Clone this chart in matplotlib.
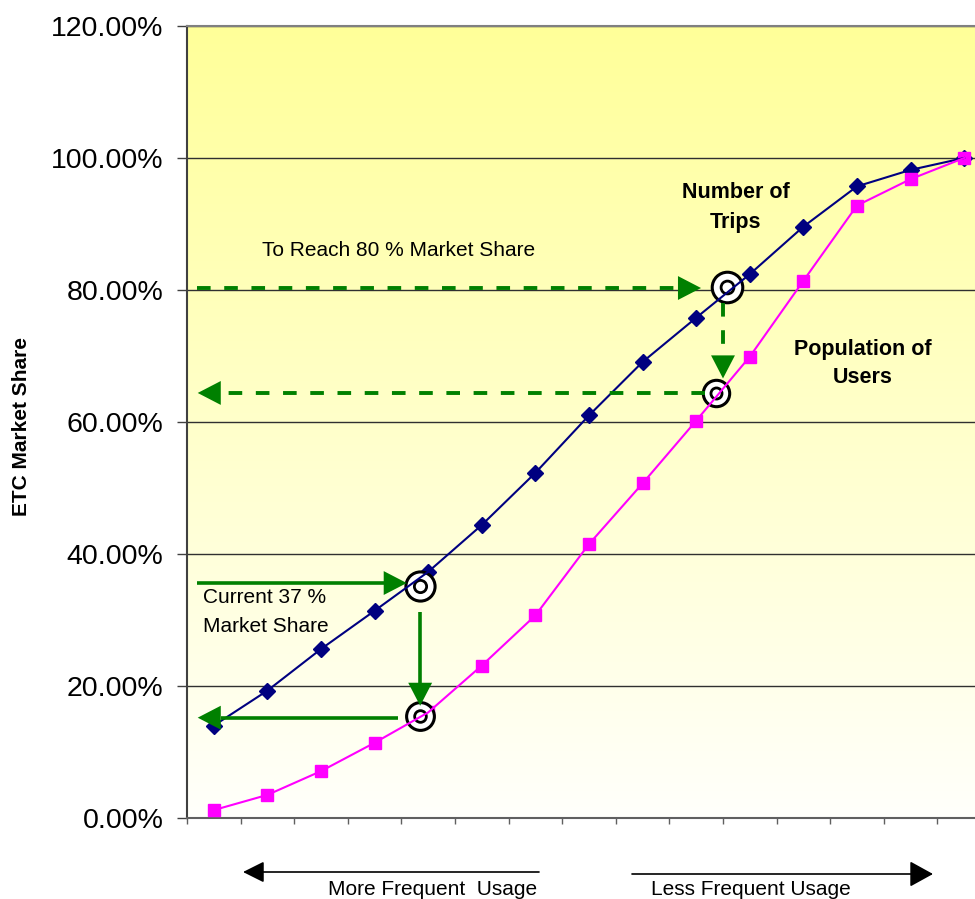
import matplotlib
matplotlib.use('Agg')
import matplotlib.pyplot as plt
import numpy as np

plt.rcParams['font.family'] = ['Liberation Sans', 'DejaVu Sans']

# usage classes, most frequent on the left
categories = list(range(1, 16))
trips = [14.0, 19.3, 25.6, 31.4, 37.3, 44.4, 52.3, 61.0, 69.1, 75.8, 82.4, 89.6, 95.7, 98.2, 100.0]
users = [1.2, 3.5, 7.1, 11.4, 16.0, 23.1, 30.7, 41.5, 50.7, 60.2, 69.9, 81.4, 92.8, 96.8, 100.0]
y_ticks = [0, 20, 40, 60, 80, 100, 120]
y_tick_labels = ['%.2f%%' % v for v in y_ticks]

GREEN = '#008000'

fig = plt.figure(figsize=(9.75, 8.99), dpi=100)
ax = fig.add_axes([187 / 975, 81 / 899, 804 / 975, 792 / 899])

# yellow -> white background
b = np.linspace(0.6, 0.985, 256)
grad = np.stack([np.ones_like(b), np.ones_like(b), b], axis=1).reshape(256, 1, 3)
ax.imshow(grad, extent=[0.5, 15.5, 0, 120], aspect='auto', origin='upper',
          interpolation='bilinear', zorder=0)
ax.set_xlim(0.5, 15.5)
ax.set_ylim(0, 120)

ax.set_yticks(y_ticks)
ax.set_yticklabels(y_tick_labels)
ax.set_xticks(np.arange(0.5, 16, 1))
ax.set_xticklabels([])
ax.tick_params(axis='y', length=7, width=1, color='#404040', pad=10, labelsize=20.5)
ax.tick_params(axis='x', length=4, width=1, color='#606060')
ax.yaxis.grid(True, color='#303030', lw=1)

ax.spines['right'].set_visible(False)
ax.spines['top'].set_color('#808080')
ax.spines['top'].set_linewidth(1.5)
ax.spines['left'].set_color('#404040')
ax.spines['left'].set_linewidth(1.5)
ax.spines['bottom'].set_color('#606060')
ax.spines['bottom'].set_linewidth(1.5)

# lines above the highlight rings, markers below them
ax.plot(categories, trips, color='#000080', lw=1.5, zorder=5)
ax.plot(categories, trips, ls='none', marker='D', ms=8.5, color='#000080', zorder=3)
ax.plot(categories, users, color='#FF00FF', lw=1.5, zorder=5)
ax.plot(categories, users, ls='none', marker='s', ms=8.5, color='#FF00FF', zorder=3)

# highlight rings
for cx, cy, size in [(4.85, 35.2, 21), (4.85, 15.5, 20), (10.57, 80.5, 22), (10.37, 64.4, 19)]:
    ax.plot(cx, cy, marker='o', ms=size, mfc='white', mec='black', mew=2.2, zorder=4)
    ax.plot(cx, cy, marker='o', ms=size * 0.42, mfc='none', mec='black', mew=2, zorder=4)


def green_arrow(start, tip, dashed=False):
    head_px = 23
    p0 = ax.transData.transform(start)
    p1 = ax.transData.transform(tip)
    d = p1 - p0
    u = d / np.hypot(*d)
    base = ax.transData.inverted().transform(p1 - u * head_px)
    if dashed:
        ax.plot([start[0], base[0]], [start[1], base[1]], color=GREEN, lw=2.8,
                dashes=(3.5, 3.5), solid_capstyle='butt', zorder=6)
    else:
        ax.plot([start[0], base[0]], [start[1], base[1]], color=GREEN, lw=2.6,
                solid_capstyle='butt', zorder=6)
    ax.annotate('', xy=tip, xytext=tuple(base),
                arrowprops=dict(arrowstyle='-|>,head_length=1.66,head_width=0.86',
                                mutation_scale=10, color=GREEN, lw=0,
                                shrinkA=0, shrinkB=0), zorder=6)


# current share
green_arrow((0.69, 35.6), (4.60, 35.6))
green_arrow((4.85, 31.2), (4.85, 17.0))
green_arrow((4.44, 15.2), (0.70, 15.2))
# target share
green_arrow((0.69, 80.3), (10.09, 80.3), dashed=True)
green_arrow((10.50, 78.0), (10.50, 66.6), dashed=True)
green_arrow((10.16, 64.4), (0.70, 64.4), dashed=True)

ax.text(1.90, 85.2, 'To Reach 80 % Market Share', fontsize=15, va='baseline', zorder=7)
ax.text(0.80, 32.6, 'Current 37 %', fontsize=15, va='baseline', zorder=7)
ax.text(0.80, 28.2, 'Market Share', fontsize=15, va='baseline', zorder=7)
ax.text(10.74, 93.9, 'Number of', fontsize=15.5, fontweight='bold', ha='center', va='baseline', zorder=7)
ax.text(10.74, 89.4, 'Trips', fontsize=15.5, fontweight='bold', ha='center', va='baseline', zorder=7)
ax.text(13.11, 70.2, 'Population of', fontsize=15.5, fontweight='bold', ha='center', va='baseline', zorder=7)
ax.text(13.11, 65.9, 'Users', fontsize=15.5, fontweight='bold', ha='center', va='baseline', zorder=7)

fig.text(22 / 975, 1 - 426 / 899, 'ETC Market Share', rotation=90, fontsize=15,
         fontweight='bold', ha='center', va='center')

# usage direction arrows under the axis
ax.annotate('', xy=(243, 27), xytext=(539, 27), xycoords='figure pixels',
            arrowprops=dict(arrowstyle='-|>,head_length=1.3,head_width=0.65',
                            mutation_scale=10, color='black', lw=1.2,
                            shrinkA=0, shrinkB=0), annotation_clip=False)
ax.annotate('', xy=(933, 25), xytext=(632, 25), xycoords='figure pixels',
            arrowprops=dict(arrowstyle='-|>,head_length=1.45,head_width=0.8',
                            mutation_scale=10, color='black', lw=1.2,
                            shrinkA=0, shrinkB=0), annotation_clip=False)
fig.text(328 / 975, 4 / 899, 'More Frequent  Usage', fontsize=15, va='baseline')
fig.text(651 / 975, 4 / 899, 'Less Frequent Usage', fontsize=15, va='baseline')

fig.savefig('out.png', dpi=100)
